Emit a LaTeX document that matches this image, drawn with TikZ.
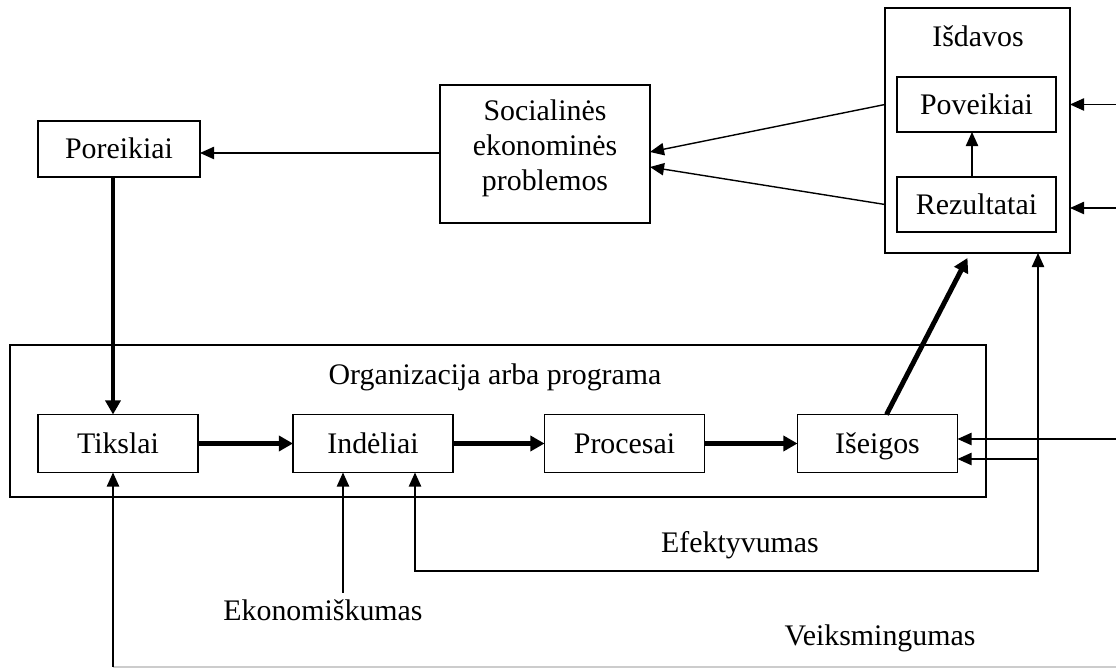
\documentclass[tikz,border=0pt]{standalone}
\usepackage{fontspec}
\setmainfont{Liberation Serif}
\usetikzlibrary{arrows.meta,calc}

\begin{document}
\begin{tikzpicture}[x=0.02cm,y=-0.02cm,font=\fontsize{17}{20}\selectfont,
    box/.style={draw,line width=.8pt,inner sep=0pt,outer sep=0pt,align=center,
      minimum width=3.2cm,minimum height=1.16cm},
    one/.style={text height=13pt,text depth=2pt},
    arr/.style={line width=.8pt,-{Triangle[length=8pt,width=7pt]}},
    fatarr/.style={line width=2.8pt,-{Triangle[length=8pt,width=8.5pt]}}]
  \useasboundingbox (0,0) rectangle (1116,668);
  % isdavos
  \node[box,minimum width=3.7cm,minimum height=4.9cm] (isdavos) at (977.5,130.5) {};
  \node[one] (isdlab) at (978,37) {Išdavos};
  \node[box,one,minimum width=3.18cm,minimum height=1.1cm] (poveikiai) at (976.5,104.5) {Poveikiai};
  \node[box,one,minimum width=3.18cm,minimum height=1.1cm] (rezultatai) at (976.5,204.5) {Rezultatai};
  \draw[arr] ($(rezultatai.north)+(-4.5,0)$) -- ($(poveikiai.south)+(-4.5,0)$);
  % problemos and poreikiai
  \node[box,minimum width=4.2cm,minimum height=2.76cm] (soc) at (545,154)
  {Socialinės\\ekonominės\\problemos\\[-.6em]};
  \node[box,one,minimum width=3.24cm,minimum height=1.12cm] (poreikiai) at (119,149) {Poreikiai};
  \draw[arr] (isdavos.west |- poveikiai) -- ($(soc.east)+(0,-2)$);
  \draw[arr] (isdavos.west |- rezultatai) -- ($(soc.east)+(0,13)$);
  \draw[arr] (soc.west |- 0,153) -- (poreikiai.east |- 0,153);
  % organizacija
  \node[box,minimum width=19.52cm,minimum height=3.04cm] (org) at (498,421) {};
  \node[one] (orglab) at (495,375) {Organizacija arba programa};
  \node[box,one] (tikslai) at (118,443.5) {Tikslai};
  \node[box,one] (indeliai) at (373,443.5) {Indėliai};
  \node[box,one] (procesai) at (624.5,443.5) {Procesai};
  \node[box,one] (iseigos) at (877.5,443.5) {Išeigos};
  \foreach \a/\b in {tikslai/indeliai,indeliai/procesai,procesai/iseigos}
    \draw[fatarr] (\a.east) -- (\b.west);
  \draw[fatarr] ($(poreikiai.south)+(-6,0)$) -- ($(tikslai.north)+(-5,0)$);
  \draw[fatarr] ($(iseigos.north)+(9,0)$) -- ($(isdavos.south)+(-10,5)$);
  % incoming from the right
  \coordinate (rin1) at (1116,104.5);
  \coordinate (rin2) at (1116,208);
  \coordinate (rin3) at (1116,439);
  \draw[arr] (rin1) -- (isdavos.east |- rin1);
  \draw[arr] (rin2) -- (isdavos.east |- rin2);
  \draw[arr] (rin3) -- (iseigos.east |- rin3);
  % efektyvumas
  \coordinate (efl) at (415,571);
  \coordinate (efr) at (1038,571);
  \coordinate (efb) at (1038,459);
  \draw[{Triangle[length=8pt,width=7pt]}-{Triangle[length=8pt,width=7pt]},line width=.8pt]
    (efl |- indeliai.south) -- (efl) -- (efr) -- (efr |- isdavos.south);
  \draw[arr] (efb) -- (iseigos.east |- efb);
  \node (efekt) at (740,545) {Efektyvumas};
  % ekonomiskumas
  \node (ekon) at (323,610) {Ekonomiškumas};
  \coordinate (ektop) at (343,593);
  \draw[arr] (ektop) -- (ektop |- indeliai.south);
  % veiksmingumas
  \coordinate (vkl) at (113,667);
  \coordinate (vkr) at (1116,667);
  \draw[gray!40,line width=.8pt] (vkl) -- (vkr);
  \draw[arr] (vkl) -- (vkl |- tikslai.south);
  \node (veiks) at (880,638) {Veiksmingumas};
\end{tikzpicture}
\end{document}
